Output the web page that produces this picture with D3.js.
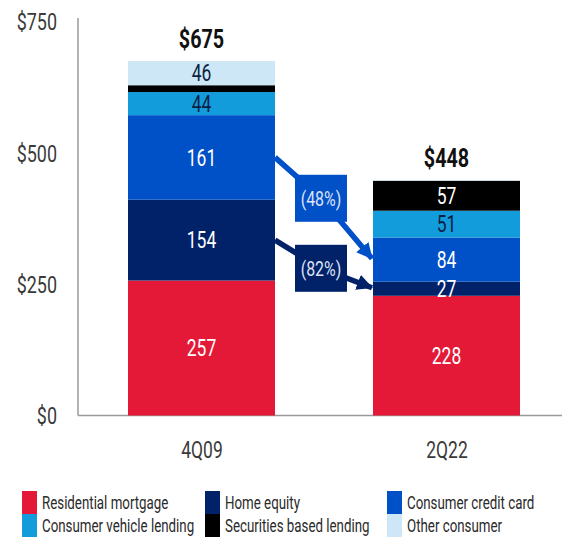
<!DOCTYPE html>
<html>
<head>
<meta charset="utf-8">
<script src="https://cdn.jsdelivr.net/npm/d3@7"></script>
<style>
  html, body { margin: 0; padding: 0; background: #fff; }
  svg { display: block; }
  text { font-family: "Roboto", "Liberation Sans", sans-serif; }
</style>
</head>
<body>
<svg id="chart" width="562" height="542"></svg>
<script>
// ---- data ----
const categories = ["4Q09", "2Q22"];
const seriesNames = ["Residential mortgage", "Home equity", "Consumer credit card",
                     "Consumer vehicle lending", "Securities based lending", "Other consumer"];
const residentialMortgage   = [257, 228];
const homeEquity            = [154, 27];
const consumerCreditCard    = [161, 84];
const consumerVehicle       = [44, 51];
const securitiesBased       = [13, 57];
const otherConsumer         = [46, 1];
const totals                = [675, 448];
const yTickValues           = [0, 250, 500, 750];
const changeSeries          = ["Consumer credit card", "Home equity"];
const changeLabels          = ["(48%)", "(82%)"];

const seriesColors = ["#e31937", "#012169", "#0050c8", "#139cdc", "#000000", "#cde7f6"];
const labelColors  = ["#ffffff", "#ffffff", "#ffffff", "#0b1f44", "#ffffff", "#0b1f44"];

const seriesValues = [residentialMortgage, homeEquity, consumerCreditCard,
                      consumerVehicle, securitiesBased, otherConsumer];

const rows = categories.map((c, i) => {
  const r = { category: c };
  seriesNames.forEach((s, j) => r[s] = seriesValues[j][i]);
  return r;
});

const stacked = d3.stack().keys(seriesNames)(rows);

const svg = d3.select("#chart");
const x = d3.scalePoint().domain(categories).range([79, 569]).padding(0.5);
const barW = 147;
const y = d3.scaleLinear().domain([0, 750]).range([415.5, 21.7]);
const color = d3.scaleOrdinal().domain(seriesNames).range(seriesColors);
const labelColor = d3.scaleOrdinal().domain(seriesNames).range(labelColors);

// horizontal condensing about the text's anchor x (reference uses a condensed face)
function condense(sel, f) {
  sel.each(function () {
    const t = d3.select(this);
    const ax = parseFloat(t.attr("x")) || 0;
    t.attr("transform", `translate(${ax},0) scale(${f},1) translate(${-ax},0)`);
  });
}

// axes lines
svg.append("line").attr("x1", 78).attr("x2", 78).attr("y1", 18).attr("y2", y(0))
  .attr("stroke", "#9a9a9a").attr("stroke-width", 1.5);
svg.append("line").attr("x1", 78).attr("x2", 562).attr("y1", y(0)).attr("y2", y(0))
  .attr("stroke", "#9a9a9a").attr("stroke-width", 1.5);

// y tick labels
const yAxis = d3.axisLeft(y).tickValues(yTickValues).tickFormat(d => "$" + d).tickSize(0).tickPadding(0);
const yg = svg.append("g").attr("transform", "translate(57,0)").call(yAxis);
yg.select(".domain").remove();
yg.selectAll("text").attr("font-size", 23).attr("fill", "#3a3a3a").attr("dy", "0.35em")
  .call(condense, 0.78);

// x labels
const xAxis = d3.axisBottom(x).tickSize(0).tickPadding(0);
const xg = svg.append("g").attr("transform", "translate(0,441)").call(xAxis);
xg.select(".domain").remove();
xg.selectAll("text").attr("font-size", 23).attr("fill", "#3a3a3a").attr("dy", "0.75em")
  .call(condense, 0.76);

// arrows (drawn before bars)
const defs = svg.append("defs");
changeSeries.forEach((s, k) => {
  defs.append("marker").attr("id", "ah" + k)
    .attr("markerUnits", "userSpaceOnUse").attr("viewBox", "0 0 16 16")
    .attr("markerWidth", 16).attr("markerHeight", 16)
    .attr("refX", 15).attr("refY", 8).attr("orient", "auto")
    .append("path").attr("d", "M0,0 L16,8 L0,16 Z").attr("fill", color(s));
});

const boxCenterX = (x(categories[0]) + barW / 2 + x(categories[1]) - barW / 2) / 2 - 3;
const boxFrac = [0.4, 0.58];
changeSeries.forEach((s, k) => {
  const layer = stacked.find(l => l.key === s);
  const a = layer[0], b = layer[1];
  const x0 = x(categories[0]) + barW / 2, y0 = y((a[0] + a[1]) / 2);
  const x1 = x(categories[1]) - barW / 2, y1 = y((b[0] + b[1]) / 2);
  const by = y0 + (y1 - y0) * boxFrac[k];
  svg.append("path")
    .attr("d", d3.line()([[x0, y0], [boxCenterX, by], [x1 - 1, y1 - 1]]))
    .attr("fill", "none").attr("stroke", color(s)).attr("stroke-width", 5.5)
    .attr("marker-end", `url(#ah${k})`);
  svg.append("rect").attr("x", boxCenterX - 26).attr("y", by - 23.5)
    .attr("width", 52).attr("height", 47).attr("fill", color(s));
  svg.append("text").attr("x", boxCenterX).attr("y", by).attr("dy", "0.35em")
    .attr("text-anchor", "middle").attr("font-size", 21).attr("fill", "#dfe3f7")
    .text(changeLabels[k]).call(condense, 0.76);
});

// bars
const layers = svg.append("g").selectAll("g").data(stacked).join("g")
  .attr("fill", d => color(d.key));
layers.selectAll("rect").data(d => d).join("rect")
  .attr("x", d => x(d.data.category) - barW / 2)
  .attr("width", barW)
  .attr("y", d => y(d[1]))
  .attr("height", d => y(d[0]) - y(d[1]));

// segment labels
stacked.forEach(layer => {
  layer.forEach(d => {
    const h = y(d[0]) - y(d[1]);
    if (h < 12) return;
    svg.append("text")
      .attr("x", x(d.data.category))
      .attr("y", y((d[0] + d[1]) / 2)).attr("dy", "0.36em")
      .attr("text-anchor", "middle").attr("font-size", 23)
      .attr("fill", labelColor(layer.key))
      .text(d[1] - d[0]).call(condense, 0.76);
  });
});

// totals
categories.forEach((c, i) => {
  svg.append("text").attr("x", x(c)).attr("y", y(totals[i]) - 13)
    .attr("text-anchor", "middle").attr("font-size", 26).attr("font-weight", "bold")
    .attr("fill", "#111").text("$" + totals[i]).call(condense, 0.76);
});

// legend
const legendCols = [22, 205, 387];
seriesNames.forEach((s, i) => {
  const col = i % 3, row = Math.floor(i / 3);
  const g = svg.append("g").attr("transform", `translate(${legendCols[col]},${491 + row * 23})`);
  g.append("rect").attr("width", 15).attr("height", 23).attr("fill", color(s));
  g.append("text").attr("x", 20).attr("y", 12).attr("dy", "0.35em")
    .attr("font-size", 18.5).attr("fill", "#2a2a2a").text(s).call(condense, 0.72);
});
</script>
</body>
</html>
